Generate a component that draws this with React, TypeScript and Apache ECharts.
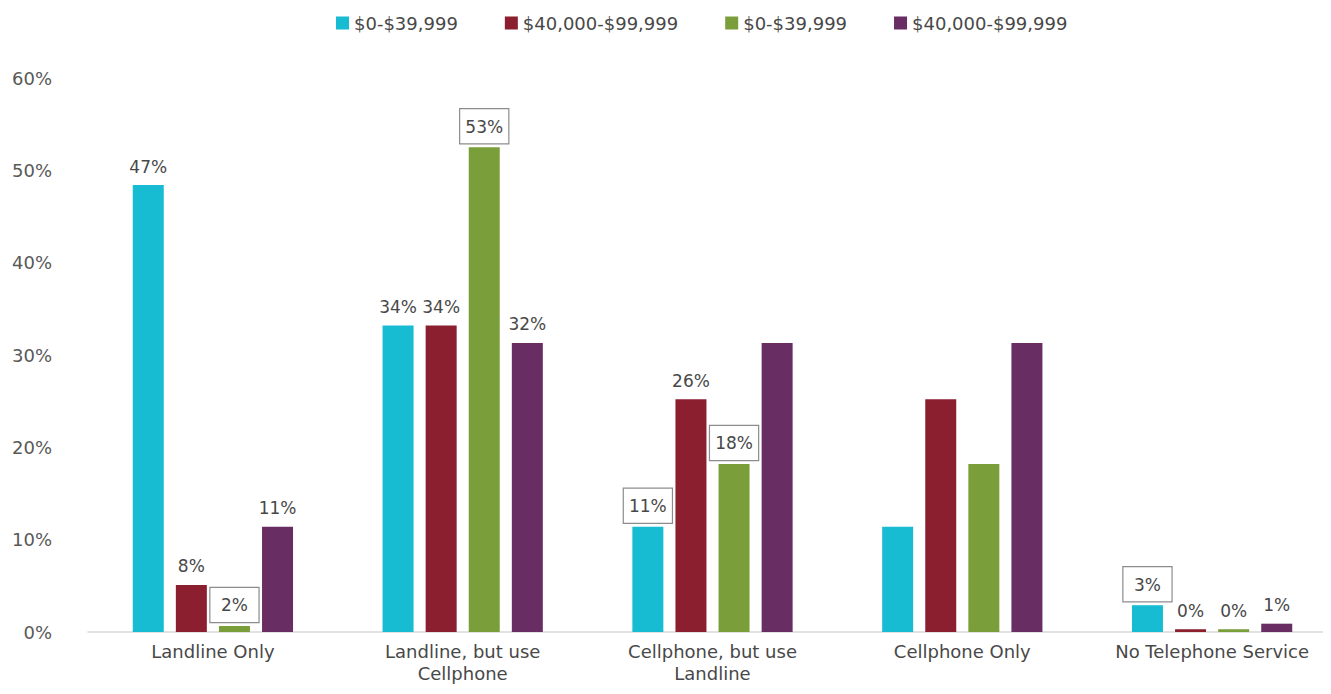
import React, { useEffect, useRef } from "react";
import * as echarts from "echarts";

const categories = [
  "Landline Only",
  "Landline, but use\nCellphone",
  "Cellphone, but use\nLandline",
  "Cellphone Only",
  "No Telephone Service",
];
const seriesNames = ["$0-$39,999", "$40,000-$99,999", "$0-$39,999 ", "$40,000-$99,999 "];
const seriesColors = ["#17BCD3", "#8B1E2F", "#7A9E3A", "#682D62"];

const values1 = [48.4, 33.2, 11.4, 11.4, 2.9];
const values2 = [5.1, 33.2, 25.2, 25.2, 0.3];
const values3 = [0.65, 52.5, 18.2, 18.2, 0.3];
const values4 = [11.4, 31.3, 31.3, 31.3, 0.9];

const labels1 = ["47%", "34%", "11%", "", "3%"];
const labels2 = ["8%", "34%", "26%", "", "0%"];
const labels3 = ["2%", "53%", "18%", "", "0%"];
const labels4 = ["11%", "32%", "", "", "1%"];

const boxed1 = [false, false, true, false, true];
const boxed2 = [false, false, false, false, false];
const boxed3 = [true, true, true, false, false];
const boxed4 = [false, false, false, false, false];

const yTicks = [0, 10, 20, 30, 40, 50, 60];

const FONT = "'DejaVu Sans', sans-serif";

export default function App() {
  const ref = useRef<HTMLDivElement>(null);
  useEffect(() => {
    if (!ref.current) return;
    const chart = echarts.init(ref.current, undefined, { renderer: "svg" });
    const allValues = [values1, values2, values3, values4];
    const allLabels = [labels1, labels2, labels3, labels4];
    const allBoxed = [boxed1, boxed2, boxed3, boxed4];
    const series = allValues.map((vals, si) => ({
      name: seriesNames[si],
      type: "bar",
      barWidth: 31,
      barGap: "39%",
      itemStyle: { color: seriesColors[si] },
      data: vals.map((v, i) => {
        const txt = allLabels[si][i];
        const box = allBoxed[si][i];
        const label: any = {
          show: txt !== "",
          position: "top",
          distance: box ? 4 : 10,
          formatter: () => txt,
          color: "#484848",
          fontSize: 17,
          fontFamily: FONT,
        };
        if (box) {
          Object.assign(label, {
            borderColor: "#8c8c8c",
            borderWidth: 1.2,
            backgroundColor: "#ffffff",
            width: 38,
            lineHeight: 19,
            align: "center",
            padding: [8, 5, 7, 5],
          });
        }
        return { value: v, label };
      }),
    }));
    chart.setOption({
      animation: false,
      textStyle: { fontFamily: FONT },
      legend: {
        top: 1,
        left: 323,
        itemWidth: 13,
        itemHeight: 13,
        itemGap: 47,
        icon: "rect",
        textStyle: { fontSize: 18, color: "#484848", fontFamily: FONT },
        data: seriesNames,
        formatter: (n: string) => n.trim(),
      },
      grid: {
        left: 80,
        right: -6,
        top: 70,
        bottom: 54,
        containLabel: false,
        outerBoundsMode: "none",
      },
      xAxis: {
        type: "category",
        data: categories,
        axisLine: { lineStyle: { color: "#d9d9d9", width: 1.5 } },
        axisTick: { show: false },
        axisLabel: {
          color: "#484848",
          fontSize: 18,
          fontFamily: FONT,
          margin: 8,
          lineHeight: 22,
          interval: 0,
        },
      },
      yAxis: {
        type: "value",
        min: yTicks[0],
        max: yTicks[yTicks.length - 1],
        interval: 10,
        splitLine: { show: false },
        axisLine: { show: false },
        axisTick: { show: false },
        axisLabel: {
          formatter: "{value}%",
          color: "#595959",
          fontSize: 18,
          fontFamily: FONT,
          margin: 36,
        },
      },
      series,
    });
    return () => chart.dispose();
  }, []);
  return <div ref={ref} style={{ width: 1323, height: 678 }} />;
}
